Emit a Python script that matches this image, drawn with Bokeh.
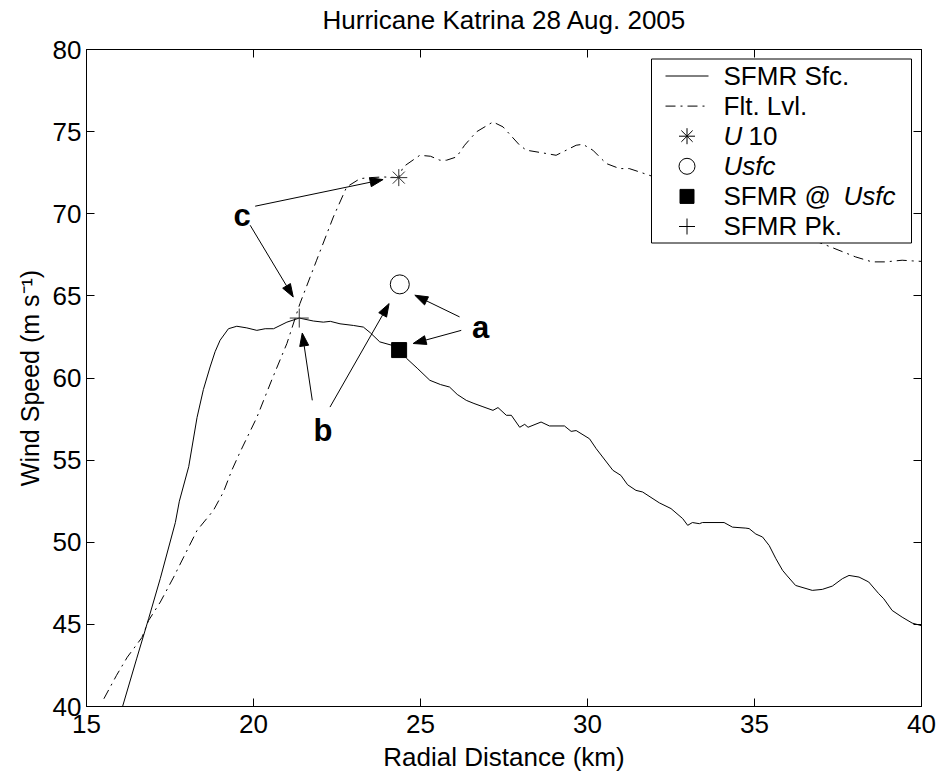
import math
from bokeh.plotting import figure
from bokeh.layouts import column
from bokeh.models import LinearAxis, FixedTicker, Range1d
from bokeh.core.properties import value
from bokeh.embed import file_html
from bokeh.resources import INLINE

# ---------------- data ----------------
TITLE = "Hurricane Katrina 28 Aug. 2005"
X_LABEL = "Radial Distance (km)"
Y_LABEL = "Wind Speed (m s\u207b\u00b9)"
x_ticks = [15, 20, 25, 30, 35, 40]
y_ticks = [40, 45, 50, 55, 60, 65, 70, 75, 80]

sfmr_x = [16.08, 16.5, 16.86, 17.21, 17.66, 17.78, 18.06, 18.31, 18.50, 18.70, 18.85, 19.0,
          19.25, 19.5, 19.8, 20.1, 20.35, 20.6, 21.0, 21.37, 21.79, 22.09, 22.3, 22.59,
          22.99, 23.29, 23.5, 23.78, 24.13, 24.36, 24.58, 24.9, 25.28, 25.6, 25.87, 26.1,
          26.37, 26.6, 26.87, 27.17, 27.32, 27.57, 27.72, 27.97, 28.12, 28.22, 28.61, 28.86,
          29.31, 29.51, 29.66, 30.06, 30.26, 30.76, 31.0, 31.2, 31.45, 31.65, 32.15, 32.5,
          32.85, 33.0, 33.14, 33.35, 33.44, 34.09, 34.34, 34.74, 34.84, 35.04, 35.24, 35.44,
          35.64, 35.84, 35.98, 36.23, 36.73, 37.03, 37.33, 37.63, 37.83, 38.13, 38.42, 38.72,
          38.87, 39.12, 39.42, 39.72, 40.0]
sfmr_y = [40.0, 42.9, 45.35, 47.8, 51.2, 52.5, 54.6, 57.6, 59.3, 60.67, 61.6, 62.3,
          63.0, 63.15, 63.05, 62.9, 63.0, 63.0, 63.4, 63.65, 63.47, 63.4, 63.45, 63.3,
          63.2, 63.1, 62.75, 62.2, 62.0, 61.7, 61.2, 60.6, 59.86, 59.6, 59.45, 59.0,
          58.64, 58.45, 58.25, 58.03, 58.2, 57.73, 57.73, 57.0, 57.18, 57.0, 57.32, 57.08,
          57.08, 56.75, 56.8, 56.3, 55.7, 54.38, 54.07, 53.5, 53.16, 53.06, 52.4, 52.05,
          51.44, 51.03, 51.2, 51.13, 51.2, 51.2, 50.92, 50.86, 50.83, 50.5, 50.32, 49.8,
          49.0, 48.29, 47.95, 47.37, 47.07, 47.13, 47.33, 47.78, 47.98, 47.88, 47.58, 46.87,
          46.56, 45.85, 45.44, 45.08, 44.92]

flt_x = [15.52, 15.9, 16.22, 16.66, 16.86, 17.21, 17.61, 17.91, 18.31, 18.80, 19.1, 19.35,
         19.6, 20.1, 20.55, 21.0, 21.39, 21.89, 22.39, 22.79, 23.19, 23.5, 23.88, 24.35,
         24.48, 24.98, 25.3, 25.58, 25.78, 26.08, 26.32, 26.67, 27.17, 27.47, 27.97, 28.17,
         28.76, 29.06, 29.66, 29.86, 30.16, 30.56, 30.96, 31.25, 31.55, 32.2, 33.0, 34.0,
         35.0, 36.0, 36.6, 37.03, 38.03, 38.52, 38.92, 39.42, 39.72, 40.0]
flt_y = [40.47, 41.9, 43.0, 44.2, 45.24, 46.36, 47.88, 49.1, 50.72, 51.94, 53.06, 54.38,
         55.5, 57.6, 59.9, 62.1, 64.53, 67.17, 69.8, 71.63, 72.14, 72.2, 72.24, 72.2,
         72.85, 73.56, 73.5, 73.26, 73.26, 73.46, 74.17, 74.98, 75.59, 75.29, 74.17, 73.87,
         73.67, 73.56, 74.17, 74.23, 73.87, 73.06, 72.75, 72.75, 72.55, 72.1, 71.4, 70.6,
         69.9, 69.0, 68.5, 68.18, 67.37, 67.07, 67.07, 67.17, 67.13, 67.1]

u10_x, u10_y = [24.35], [72.2]
usfc_x, usfc_y = [24.38], [65.7]
sfmr_usfc_x, sfmr_usfc_y = [24.36], [61.7]
pk_x, pk_y = [21.37], [63.65]

letters = ["a", "b", "c"]
letter_x = [26.80, 22.08, 19.66]
letter_y = [62.47, 56.21, 69.30]

arrow_tail_x = [20.05, 19.90, 21.76, 22.29, 26.17, 26.22]
arrow_tail_y = [70.46, 69.30, 58.64, 58.23, 63.72, 62.90]
arrow_tip_x = [23.88, 21.19, 21.46, 24.06, 24.83, 24.78]
arrow_tip_y = [72.08, 64.93, 62.74, 64.53, 65.04, 62.10]

# ---------------- layout ----------------
FONT = "Liberation Sans"
W, H = 940, 775
TOP_H = 34                      # strip holding the title
L, R, T, B = 86, 19, 15, 69     # borders of the main figure
H_MAIN = H - TOP_H
FW, FH = W - L - R, H_MAIN - T - B
FRAME_TOP = TOP_H + T           # page y of the frame top
X0, X1, Y0, Y1 = 15, 40, 40, 80
TEXT_FIX = 10  # px the rendered baseline sits low


def xd(px):
    return X0 + (px - L) * (X1 - X0) / FW


def yd(py):
    return Y1 - (py - FRAME_TOP) * (Y1 - Y0) / FH


def xp(x):
    return L + (x - X0) * FW / (X1 - X0)


def yp(y):
    return FRAME_TOP + (Y1 - y) * FH / (Y1 - Y0)


# title strip (its frame is aligned with the main frame by the column layout)
tf = figure(width=W, height=TOP_H, x_range=Range1d(L, W - R), y_range=Range1d(TOP_H, 0),
            output_backend="svg", toolbar_location=None, x_axis_type=None, y_axis_type=None,
            min_border=0, min_border_left=0, min_border_right=0, min_border_top=0,
            min_border_bottom=0)
tf.outline_line_color = None
tf.grid.visible = False
tf.background_fill_color = "white"
tf.border_fill_color = "white"
tf.text([322], [29 - TEXT_FIX], text=[TITLE], text_font=value(FONT), text_font_size="26px",
        text_align="left", text_baseline="alphabetic", text_color="black")

p = figure(width=W, height=H_MAIN, x_range=Range1d(X0, X1), y_range=Range1d(Y0, Y1),
           output_backend="svg", toolbar_location=None,
           min_border_left=L, min_border_right=R, min_border_top=T, min_border_bottom=B)
p.background_fill_color = "white"
p.border_fill_color = "white"
p.outline_line_color = "black"
p.outline_line_width = 1
p.grid.visible = False

for ax, ticks in ((p.xaxis[0], x_ticks), (p.yaxis[0], y_ticks)):
    ax.ticker = FixedTicker(ticks=ticks)
    ax.major_tick_in = 8
    ax.major_tick_out = 0
    ax.minor_tick_in = 0
    ax.minor_tick_out = 0
    ax.axis_line_color = "black"
    ax.major_tick_line_color = "black"
    ax.major_label_text_font = FONT
    ax.major_label_text_font_size = "26px"
    ax.major_label_text_color = "black"
    ax.axis_label_text_font = FONT
    ax.axis_label_text_font_style = "normal"
    ax.axis_label_text_color = "black"

p.xaxis.major_label_standoff = 8
p.xaxis.axis_label = X_LABEL
p.xaxis.axis_label_text_font_size = "26px"
p.xaxis.axis_label_standoff = 6
p.yaxis.major_label_standoff = 5
p.yaxis.axis_label = Y_LABEL
p.yaxis.axis_label_text_font_size = "25px"
p.yaxis.axis_label_standoff = 6

for loc, ticks in (("above", x_ticks), ("right", y_ticks)):
    a = LinearAxis(ticker=FixedTicker(ticks=ticks),
                   major_label_overrides={t: "" for t in ticks},
                   major_label_text_font_size="1px", major_label_standoff=0,
                   major_tick_in=8, major_tick_out=0, minor_tick_in=0, minor_tick_out=0,
                   axis_line_color="black", major_tick_line_color="black")
    p.add_layout(a, loc)

# ---------------- curves ----------------
p.line(sfmr_x, sfmr_y, line_color="black", line_width=1)
p.line(flt_x, flt_y, line_color="black", line_width=1, line_dash="10 5 2 5")

# ---------------- markers ----------------
p.scatter(u10_x, u10_y, marker="asterisk", size=17, line_color="#303030", line_width=1)
p.scatter(usfc_x, usfc_y, marker="circle", size=19, line_color="black", fill_color=None, line_width=1)
p.scatter(sfmr_usfc_x, sfmr_usfc_y, marker="square", size=15, line_color="black", fill_color="black")
p.scatter(pk_x, pk_y, marker="cross", size=19, line_color="#303030", line_width=1)

# ---------------- arrows ----------------
HEAD_L, HEAD_W = 13, 4.5
seg_x0, seg_y0, seg_x1, seg_y1, head_xs, head_ys = [], [], [], [], [], []
for tx, ty, hx, hy in zip(arrow_tail_x, arrow_tail_y, arrow_tip_x, arrow_tip_y):
    px0, py0, px1, py1 = xp(tx), yp(ty), xp(hx), yp(hy)
    dx, dy = px1 - px0, py1 - py0
    n = math.hypot(dx, dy)
    ux, uy = dx / n, dy / n
    bx, by = px1 - HEAD_L * ux, py1 - HEAD_L * uy
    nx, ny = -uy, ux
    seg_x0.append(tx); seg_y0.append(ty); seg_x1.append(xd(bx)); seg_y1.append(yd(by))
    head_xs.append([hx, xd(bx + HEAD_W * nx), xd(bx - HEAD_W * nx)])
    head_ys.append([hy, yd(by + HEAD_W * ny), yd(by - HEAD_W * ny)])
p.segment(seg_x0, seg_y0, seg_x1, seg_y1, line_color="black", line_width=1)
p.patches(head_xs, head_ys, fill_color="black", line_color="black", line_width=1)

p.text(letter_x, [yd(yp(v) - TEXT_FIX) for v in letter_y], text=letters,
       text_font=value(FONT), text_font_size="31px",
       text_font_style="bold", text_align="center", text_baseline="alphabetic", text_color="black")

# ---------------- legend (drawn) ----------------
LG_L, LG_R, LG_T, LG_B = 651, 911, 58.5, 242.5
p.quad(left=[xd(LG_L)], right=[xd(LG_R)], top=[yd(LG_T)], bottom=[yd(LG_B)],
       fill_color="white", line_color="black", line_width=1)
ROW0, ROW_DY = 75.5, 30.1
rows = [ROW0 + ROW_DY * i for i in range(6)]
S_L, S_R, S_C = 665, 708, 686.5
p.line([xd(S_L), xd(S_R)], [yd(rows[0])] * 2, line_color="black", line_width=1)
p.line([xd(S_L), xd(S_R)], [yd(rows[1])] * 2, line_color="black", line_width=1, line_dash="10 5 2 5")
p.scatter([xd(S_C)], [yd(rows[2])], marker="asterisk", size=16, line_color="black", line_width=1)
p.scatter([xd(S_C)], [yd(rows[3])], marker="circle", size=16, line_color="black", fill_color=None, line_width=1)
p.scatter([xd(S_C)], [yd(rows[4])], marker="square", size=14, line_color="black", fill_color="black")
p.scatter([xd(S_C)], [yd(rows[5])], marker="cross", size=16, line_color="black", line_width=1)

TX = 723
CAP = 9.5 - TEXT_FIX
norm_txt = ["SFMR Sfc.", "Flt. Lvl.", "10", "SFMR @ ", "SFMR Pk."]
norm_x = [TX, TX, 748, TX, TX]
norm_row = [0, 1, 2, 4, 5]
ital_txt = ["U", "Usfc", "Usfc"]
ital_x = [TX, TX, 843]
ital_row = [2, 3, 4]
p.text([xd(v) for v in norm_x], [yd(rows[r] + CAP) for r in norm_row], text=norm_txt,
       text_font=value(FONT), text_font_size="26px", text_align="left",
       text_baseline="alphabetic", text_color="black")
p.text([xd(v) for v in ital_x], [yd(rows[r] + CAP) for r in ital_row], text=ital_txt,
       text_font=value(FONT), text_font_size="26px", text_font_style="italic", text_align="left",
       text_baseline="alphabetic", text_color="black")

open("out.html", "w").write(file_html(column(tf, p, spacing=0), INLINE))
